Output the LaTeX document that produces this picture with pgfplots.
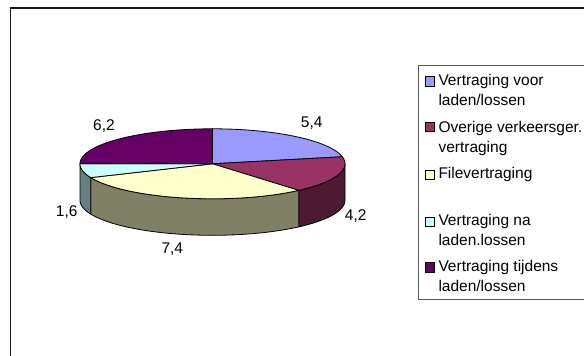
\documentclass[border=0pt]{standalone}
\usepackage{pgfplots}
\usepackage{pgfplotstable}
\usepackage{fontspec}
\setmainfont{Liberation Sans}
\pgfplotsset{compat=1.18}

% Delay components, in the order they run clockwise from twelve o'clock
\pgfplotstableread{
value
5.4
4.2
7.4
1.6
6.2
}\slicetable

\definecolor{topA}{HTML}{9999FF}
\definecolor{topB}{HTML}{993366}
\definecolor{topC}{HTML}{FFFFCC}
\definecolor{topD}{HTML}{CCFFFF}
\definecolor{topE}{HTML}{660066}
\definecolor{wallB}{HTML}{4D1933}
\definecolor{wallC}{HTML}{808066}
\definecolor{wallD}{HTML}{668080}

% Cumulative angles, in degrees clockwise from the top of the pie
\newcommand{\readslice}[2]{\pgfplotstablegetelem{#1}{value}\of\slicetable\edef#2{\pgfplotsretval}}
\readslice{0}{\va}\readslice{1}{\vb}\readslice{2}{\vc}\readslice{3}{\vd}\readslice{4}{\ve}
\pgfmathsetmacro{\total}{\va+\vb+\vc+\vd+\ve}
\pgfmathsetmacro{\angA}{360*\va/\total}
\pgfmathsetmacro{\angB}{\angA+360*\vb/\total}
\pgfmathsetmacro{\angC}{\angB+360*\vc/\total}
\pgfmathsetmacro{\angD}{\angC+360*\vd/\total}

\newcommand{\cx}{212.5}
\newcommand{\cy}{163.8}
\newcommand{\rx}{132.5}
\newcommand{\ry}{35}
\newcommand{\depth}{36.5}

% Top face of one slice: centre, arc, centre
\newcommand{\slicetop}[3]{%
  \addplot[draw=black,line width=0.8pt,line join=round,fill=#3,variable=\t,domain=-1:49,samples=51]
    ({(\t<-0.5||\t>48.5) ? \cx : \cx+\rx*sin(#1+(#2-#1)*\t/48)},
     {(\t<-0.5||\t>48.5) ? \cy : \cy-\ry*cos(#1+(#2-#1)*\t/48)});}
% Outer wall of one slice: upper arc forward, lower arc back
\newcommand{\slicewall}[3]{%
  \addplot[draw=black,line width=0.8pt,line join=round,fill=#3,variable=\t,domain=0:98,samples=99]
    ({\t<48.5 ? \cx+\rx*sin(#1+(#2-#1)*\t/48) : (\t<97.5 ? \cx+\rx*sin(#2+(#1-#2)*(\t-49)/48) : \cx+\rx*sin(#1))},
     {\t<48.5 ? \cy-\ry*cos(#1+(#2-#1)*\t/48) : (\t<97.5 ? \cy+\depth-\ry*cos(#2+(#1-#2)*(\t-49)/48) : \cy-\ry*cos(#1))});}
\newcommand{\legendswatch}[2]{%
  \addplot[only marks,mark=square*,mark size=4.6pt,mark options={fill=#2,draw=black,line width=0.8pt}]
    coordinates {(430,#1)};}

\begin{document}
\begin{tikzpicture}[every node/.style={font=\fontsize{15.5}{18}\selectfont,text=black,inner sep=0pt}]
\useasboundingbox (0,0) rectangle (584pt,356pt);
\begin{axis}[
  at={(0,0)},anchor=south west,
  scale only axis,width=584pt,height=356pt,
  xmin=0,xmax=584,ymin=0,ymax=356,y dir=reverse,
  hide axis,
]
% Chart frame
\addplot[color=black!90,line width=1.6pt] coordinates {(10.5,356) (10.5,8) (584,8)};

% Walls, visible on the near half of the pie only
\slicewall{90}{\angB}{wallB}
\slicewall{\angB}{\angC}{wallC}
\slicewall{\angC}{\angD}{wallD}

% Top faces
\slicetop{0}{\angA}{topA}
\slicetop{\angA}{\angB}{topB}
\slicetop{\angB}{\angC}{topC}
\slicetop{\angC}{\angD}{topD}
\slicetop{\angD}{360}{topE}

% Value labels
\node at (axis cs:311.7,123) {5,4};
\node at (axis cs:355.7,216) {4,2};
\node at (axis cs:172.3,249) {7,4};
\node at (axis cs:66.7,212) {1,6};
\node at (axis cs:104,126) {6,2};

% Legend box, running off the right edge
\addplot[color=black!65,line width=1pt] coordinates {(584,65.5) (418.5,65.5) (418.5,299) (584,299)};
\legendswatch{81.3}{topA}
\legendswatch{127}{topB}
\legendswatch{175}{topC}
\legendswatch{221.7}{topD}
\legendswatch{267.3}{topE}
\node[anchor=base west] at (axis cs:438.3,85.5) {Vertraging voor};
\node[anchor=base west] at (axis cs:438.3,105.5) {laden/lossen};
\node[anchor=base west] at (axis cs:438.3,132) {Overige verkeersger.};
\node[anchor=base west] at (axis cs:438.3,152) {vertraging};
\node[anchor=base west] at (axis cs:438.3,178.5) {Filevertraging};
\node[anchor=base west] at (axis cs:438.3,225) {Vertraging na};
\node[anchor=base west] at (axis cs:438.3,245) {laden.lossen};
\node[anchor=base west] at (axis cs:438.3,271) {Vertraging tijdens};
\node[anchor=base west] at (axis cs:438.3,291) {laden/lossen};
\end{axis}
\end{tikzpicture}
\end{document}
